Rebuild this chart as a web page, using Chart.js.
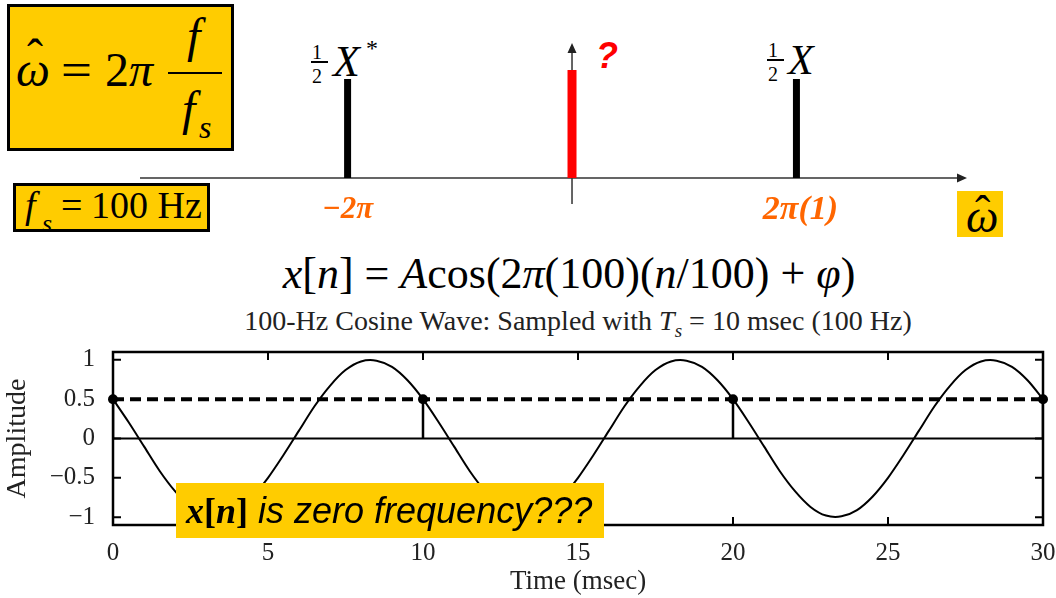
<!DOCTYPE html>
<html>
<head>
<meta charset="utf-8">
<script src="https://cdn.jsdelivr.net/npm/chart.js@4.4.1/dist/chart.umd.min.js"></script>
<style>
  body { margin: 0; width: 1056px; height: 598px; background: #fff; position: relative; overflow: hidden;
         font-family: 'Liberation Serif', 'Times New Roman', serif; color: #000; }
  .abs { position: absolute; line-height: 1; white-space: nowrap; }
  .it { font-style: italic; }
  .yel { position: absolute; background: #ffcc00; }
  canvas { position: absolute; }
</style>
</head>
<body>

<!-- formula box -->
<div class="yel" style="left:7px;top:4px;width:221px;height:141px;border:3px solid #000;"></div>
<span class="abs it" style="left:16px;top:46px;font-size:48px;">ω</span>
<span class="abs" style="left:27px;top:33px;font-size:48px;">ˆ</span>
<span class="abs" style="left:61px;top:46px;font-size:48px;transform:scaleX(1.15);transform-origin:left;">=</span>
<span class="abs" style="left:105px;top:46px;font-size:48px;">2<i>π</i></span>
<span class="abs it" style="left:187px;top:12px;font-size:48px;">f</span>
<div class="abs" style="left:168px;top:72px;width:54px;height:2px;background:#000;"></div>
<span class="abs it" style="left:182px;top:85px;font-size:48px;">f</span>
<span class="abs it" style="left:199px;top:111px;font-size:32px;">s</span>

<!-- fs box -->
<div class="yel" style="left:13px;top:183px;width:191px;height:43px;border:3px solid #000;"></div>
<span class="abs it" style="left:25px;top:186px;font-size:38px;">f</span>
<span class="abs it" style="left:42px;top:211px;font-size:26px;">s</span>
<span class="abs" style="left:61px;top:186px;font-size:38px;">=</span>
<span class="abs" style="left:91px;top:186px;font-size:38px;">100 Hz</span>

<!-- omega hat axis label -->
<div class="yel" style="left:957px;top:191px;width:46px;height:46px;"></div>
<span class="abs it" style="left:966px;top:194px;font-size:46px;">ω</span>
<span class="abs" style="left:975px;top:190px;font-size:46px;">ˆ</span>

<!-- spectrum line labels -->
<span class="abs" style="left:312px;top:42px;font-size:20px;">1</span>
<div class="abs" style="left:311px;top:61px;width:17px;height:2px;background:#000;"></div>
<span class="abs" style="left:312px;top:66px;font-size:20px;">2</span>
<span class="abs it" style="left:333px;top:40px;font-size:44px;">X</span>
<span class="abs" style="left:366px;top:36px;font-size:24px;">*</span>

<span class="abs" style="left:768px;top:40px;font-size:20px;">1</span>
<div class="abs" style="left:767px;top:59px;width:17px;height:2px;background:#000;"></div>
<span class="abs" style="left:768px;top:64px;font-size:20px;">2</span>
<span class="abs it" style="left:788px;top:39px;font-size:42px;">X</span>

<span class="abs" style="left:596px;top:38px;font-size:36px;font-family:'Liberation Sans',Arial,sans-serif;font-weight:bold;font-style:italic;color:#ff0000;">?</span>

<canvas id="specChart" width="827" height="210" style="left:140px;top:30px;"></canvas>

<!-- equation and plot title -->
<div class="abs" style="left:0;width:1138px;top:252px;text-align:center;font-size:44px;">
  <i>x</i>[<i>n</i>] = <i>A</i>cos(2<i>π</i>(100)(<i>n</i>/100) + <i>φ</i>)
</div>
<div class="abs" style="left:0;width:1156px;top:307px;text-align:center;font-size:28px;color:#222;">
  100-Hz Cosine Wave: Sampled with <i>T<sub style="font-size:19px;">s</sub></i> = 10 msec (100 Hz)
</div>

<canvas id="waveChart" width="1056" height="258" style="left:0;top:340px;"></canvas>

<div class="yel" style="left:176px;top:483px;width:428px;height:55px;"></div>
<div class="abs" style="left:186px;top:483px;line-height:55px;font-size:36px;">
  <b><i>x</i>[<i>n</i>]</b><span style="font-family:'Liberation Sans',Arial,sans-serif;font-style:italic;"> is zero frequency???</span>
</div>

<script>
// spectrum lines, frequency in units of pi
const specFreqs = [-2, 0, 2];
const specMags = [1, 1.09, 1];
const specColors = ['#000000', '#ff0000', '#000000'];
const specWidths = [7, 9, 7];
const specLabels = ['\u22122\u03c0', '', '2\u03c0(1)'];

// 100 Hz cosine, time in msec
const timeMs = [
  0, 0.5, 1, 1.5, 2, 2.5, 3, 3.5, 4, 4.5, 5, 5.5, 6, 6.5, 7, 7.5, 8, 8.5, 9, 9.5,
  10, 10.5, 11, 11.5, 12, 12.5, 13, 13.5, 14, 14.5, 15, 15.5, 16, 16.5, 17, 17.5, 18, 18.5, 19, 19.5,
  20, 20.5, 21, 21.5, 22, 22.5, 23, 23.5, 24, 24.5, 25, 25.5, 26, 26.5, 27, 27.5, 28, 28.5, 29, 29.5,
  30
];
const amplitude = [
  0.5, 0.21, -0.1, -0.41, -0.67, -0.87, -0.98, -0.99, -0.91, -0.74, -0.5, -0.21, 0.1, 0.41, 0.67, 0.87, 0.98, 0.99, 0.91, 0.74,
  0.5, 0.21, -0.1, -0.41, -0.67, -0.87, -0.98, -0.99, -0.91, -0.74, -0.5, -0.21, 0.1, 0.41, 0.67, 0.87, 0.98, 0.99, 0.91, 0.74,
  0.5, 0.21, -0.1, -0.41, -0.67, -0.87, -0.98, -0.99, -0.91, -0.74, -0.5, -0.21, 0.1, 0.41, 0.67, 0.87, 0.98, 0.99, 0.91, 0.74,
  0.5
];
const sampleTimes = [0, 10, 20, 30];
const sampleValues = [0.5, 0.5, 0.5, 0.5];

const xTicks = [0, 5, 10, 15, 20, 25, 30];
const yTicks = [-1, -0.5, 0, 0.5, 1];

const serif = "'Liberation Serif', 'Times New Roman', serif";

// axis with arrows + orange labels under the lines
const specAxes = {
    id: 'specAxes',
    beforeDatasetsDraw(chart) {
        const { ctx, chartArea: a, scales: { x, y } } = chart;
        const y0 = y.getPixelForValue(0);
        const x0 = x.getPixelForValue(0);
        ctx.save();
        ctx.strokeStyle = '#333';
        ctx.fillStyle = '#222';
        ctx.lineWidth = 1.5;
        ctx.beginPath();
        ctx.moveTo(a.left, y0);
        ctx.lineTo(a.right - 8, y0);
        ctx.moveTo(x0, y0 + 26);
        ctx.lineTo(x0, a.top + 20);
        ctx.stroke();
        // arrow heads
        ctx.beginPath();
        ctx.moveTo(a.right, y0);
        ctx.lineTo(a.right - 10, y0 - 4.5);
        ctx.lineTo(a.right - 10, y0 + 4.5);
        ctx.closePath();
        ctx.moveTo(x0, a.top + 13);
        ctx.lineTo(x0 - 4.5, a.top + 23);
        ctx.lineTo(x0 + 4.5, a.top + 23);
        ctx.closePath();
        ctx.fill();
        ctx.restore();
    },
    afterDatasetsDraw(chart) {
        const { ctx, scales: { x, y } } = chart;
        const y0 = y.getPixelForValue(0);
        ctx.save();
        ctx.fillStyle = '#ff6600';
        ctx.textAlign = 'center';
        ctx.textBaseline = 'middle';
        specFreqs.forEach((f, i) => {
            if (!specLabels[i]) return;
            ctx.font = 'italic bold ' + (f > 0 ? 34 : 31) + 'px ' + serif;
            ctx.fillText(specLabels[i], x.getPixelForValue(f) + (f > 0 ? 4 : 0), y0 + 32);
        });
        ctx.restore();
    }
};

new Chart(document.getElementById('specChart'), {
    type: 'line',
    data: {
        datasets: specFreqs.map((f, i) => ({
            data: [{ x: f, y: 0 }, { x: f, y: specMags[i] }],
            borderColor: specColors[i],
            borderWidth: specWidths[i],
            pointRadius: 0,
            borderCapStyle: 'butt',
            clip: false
        }))
    },
    options: {
        responsive: false,
        animation: false,
        events: [],
        layout: { padding: 0, autoPadding: false },
        plugins: { legend: { display: false }, tooltip: { enabled: false } },
        scales: {
            x: { type: 'linear', display: false, min: -3.85, max: 3.52 },
            y: { type: 'linear', display: false, min: -0.626, max: 1.495 }
        }
    },
    plugins: [specAxes]
});

// box around the plot with inward ticks on all four sides
const framePlugin = {
    id: 'frame',
    afterDatasetsDraw(chart) {
        const { ctx, chartArea: a, scales: { x, y } } = chart;
        ctx.save();
        ctx.strokeStyle = '#000';
        ctx.lineWidth = 2.5;
        ctx.strokeRect(a.left, a.top, a.width, a.height);
        ctx.lineWidth = 2;
        ctx.beginPath();
        xTicks.forEach(v => {
            const px = x.getPixelForValue(v);
            ctx.moveTo(px, a.bottom); ctx.lineTo(px, a.bottom - 8);
            ctx.moveTo(px, a.top); ctx.lineTo(px, a.top + 8);
        });
        yTicks.forEach(v => {
            const py = y.getPixelForValue(v);
            ctx.moveTo(a.left, py); ctx.lineTo(a.left + 8, py);
            ctx.moveTo(a.right, py); ctx.lineTo(a.right - 8, py);
        });
        ctx.stroke();
        ctx.restore();
    }
};

// scales take fixed room, no extra space for overhanging tick labels
function fixBox(size) {
    return s => {
        if (s.isHorizontal()) s.height = size; else s.width = size;
        s.paddingTop = 0;
        s.paddingBottom = 0;
        s.paddingLeft = 0;
        s.paddingRight = 0;
    };
}

const stemPoints = [];
sampleTimes.forEach((t, i) => {
    stemPoints.push({ x: t, y: 0 }, { x: t, y: sampleValues[i] }, { x: t, y: null });
});

new Chart(document.getElementById('waveChart'), {
    type: 'line',
    data: {
        datasets: [
            { // sample dots
                data: sampleTimes.map((t, i) => ({ x: t, y: sampleValues[i] })),
                showLine: false, pointRadius: 5, pointBackgroundColor: '#000', pointBorderWidth: 0, clip: false
            },
            { // line through the samples
                data: sampleTimes.map((t, i) => ({ x: t, y: sampleValues[i] })),
                borderColor: '#000', borderWidth: 4, borderDash: [11, 6], pointRadius: 0
            },
            { // stems
                data: stemPoints,
                borderColor: '#000', borderWidth: 2.5, pointRadius: 0, spanGaps: false
            },
            { // cosine
                data: timeMs.map((t, i) => ({ x: t, y: amplitude[i] })),
                borderColor: '#000', borderWidth: 2, pointRadius: 0, tension: 0.3
            },
            { // zero line
                data: [{ x: 0, y: 0 }, { x: 30, y: 0 }],
                borderColor: '#000', borderWidth: 2, pointRadius: 0
            }
        ]
    },
    options: {
        responsive: false,
        animation: false,
        events: [],
        layout: { padding: { top: 12, right: 13, left: 0, bottom: 0 }, autoPadding: false },
        plugins: { legend: { display: false }, tooltip: { enabled: false } },
        scales: {
            x: {
                type: 'linear', min: 0, max: 30,
                grid: { display: false, drawTicks: false },
                border: { display: false },
                afterBuildTicks: s => { s.ticks = xTicks.map(v => ({ value: v })); },
                afterFit: fixBox(73),
                ticks: { padding: 13, color: '#222', maxRotation: 0, font: { family: serif, size: 25 } },
                title: { display: true, text: 'Time (msec)', color: '#222', padding: 0, font: { family: serif, size: 27 } }
            },
            y: {
                type: 'linear', min: -1.1, max: 1.1,
                grid: { display: false, drawTicks: false },
                border: { display: false },
                afterBuildTicks: s => { s.ticks = yTicks.map(v => ({ value: v })); },
                afterFit: fixBox(113),
                ticks: {
                    padding: 18, color: '#222', font: { family: serif, size: 25 },
                    callback: v => (v < 0 ? '\u2212' + Math.abs(v) : String(v))
                },
                title: { display: true, text: 'Amplitude', color: '#222', padding: 1, font: { family: serif, size: 28 } }
            }
        }
    },
    plugins: [framePlugin]
});
</script>
</body>
</html>
